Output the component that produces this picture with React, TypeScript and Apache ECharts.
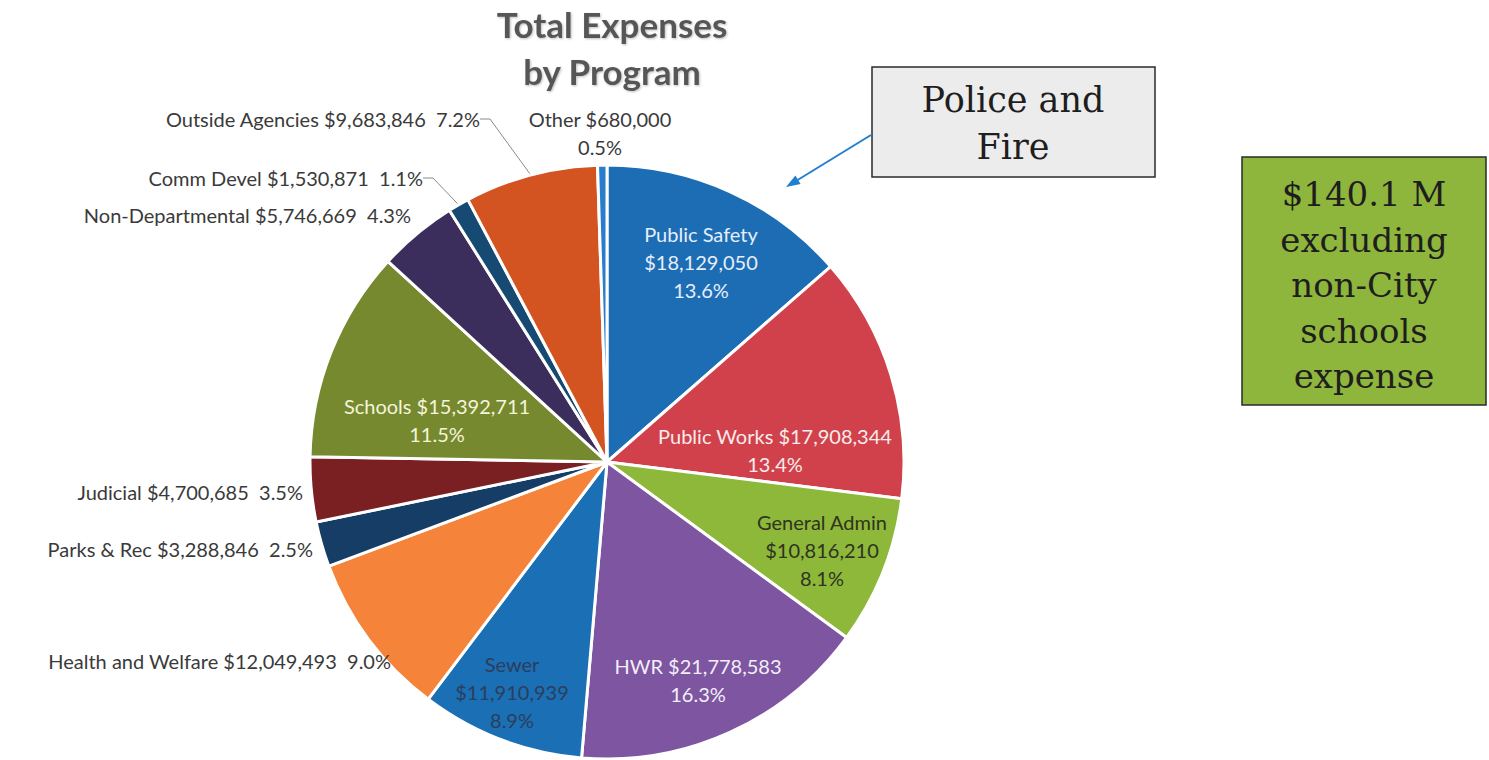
import React, { useEffect, useRef } from "react";
import * as echarts from "echarts";

const categories = [
  "Public Safety",
  "Public Works",
  "General Admin",
  "HWR",
  "Sewer",
  "Health and Welfare",
  "Parks & Rec",
  "Judicial",
  "Schools",
  "Non-Departmental",
  "Comm Devel",
  "Outside Agencies",
  "Other",
];

const values = [
  18129050, 17908344, 10816210, 21778583, 11910939, 12049493, 3288846,
  4700685, 15392711, 5746669, 1530871, 9683846, 680000,
];

const colors = [
  "#1d6db5",
  "#d0414b",
  "#8db83a",
  "#7d55a0",
  "#1a6fb5",
  "#f5843a",
  "#163d66",
  "#7a1f22",
  "#76892e",
  "#3c2e5c",
  "#164a72",
  "#d35420",
  "#2a7ccc",
];

type LabelStyle = {
  mode: "in" | "out";
  fmt: "stack3" | "stack2" | "line";
  x: number;
  y: number;
  align: "left" | "center" | "right";
  color: string;
  line?: boolean;
};

const labelStyles: LabelStyle[] = [
  { mode: "in", fmt: "stack3", x: 701, y: 262, align: "center", color: "#e6eefa" },
  { mode: "in", fmt: "stack2", x: 775, y: 450, align: "center", color: "#f8ecec" },
  { mode: "in", fmt: "stack3", x: 822, y: 550, align: "center", color: "#2f3320" },
  { mode: "in", fmt: "stack2", x: 698, y: 680, align: "center", color: "#f3eef8" },
  { mode: "in", fmt: "stack3", x: 512, y: 692, align: "center", color: "#2c3e5c" },
  { mode: "out", fmt: "line", x: 391, y: 661, align: "right", color: "#3a3a3a" },
  { mode: "out", fmt: "line", x: 313, y: 549, align: "right", color: "#3a3a3a" },
  { mode: "out", fmt: "line", x: 303, y: 492, align: "right", color: "#3a3a3a" },
  { mode: "in", fmt: "stack2", x: 437, y: 420, align: "center", color: "#f4f4dc" },
  { mode: "out", fmt: "line", x: 411, y: 215, align: "right", color: "#3a3a3a" },
  { mode: "out", fmt: "line", x: 423, y: 178, align: "right", color: "#3a3a3a", line: true },
  { mode: "out", fmt: "line", x: 480, y: 119, align: "right", color: "#3a3a3a", line: true },
  { mode: "out", fmt: "stack2", x: 600, y: 133, align: "center", color: "#3a3a3a" },
];

const total = values.reduce((a, b) => a + b, 0);
const money = (v: number) => "$" + v.toLocaleString("en-US");
const pct = (v: number) => ((v / total) * 100).toFixed(1) + "%";

function labelText(i: number): string {
  const n = categories[i];
  const v = values[i];
  const s = labelStyles[i];
  if (s.fmt === "stack3") return `${n}\n${money(v)}\n${pct(v)}`;
  if (s.fmt === "stack2") return `${n} ${money(v)}\n${pct(v)}`;
  return `${n} ${money(v)}  ${pct(v)}`;
}

export default function App() {
  const ref = useRef<HTMLDivElement>(null);
  useEffect(() => {
    document.body.style.margin = "0";
    const chart = echarts.init(ref.current!, null, { renderer: "svg" });
    const font = "Lato, 'Open Sans', sans-serif";
    const serif = "'DejaVu Serif', 'Liberation Serif', serif";

    const data = categories.map((name, i) => {
      const s = labelStyles[i];
      return {
        name,
        value: values[i],
        itemStyle: { color: colors[i] },
        label: {
          position: s.mode === "in" ? "inside" : "outside",
          color: s.color,
          align: s.align,
        },
        labelLine: {
          show: !!s.line,
          length: 10,
          length2: 10,
          lineStyle: { color: "#8a8a8a", width: 1 },
        },
      };
    });

    chart.setOption({
      animation: false,
      backgroundColor: "#ffffff",
      title: {
        text: "Total Expenses\nby Program",
        left: 607,
        top: -5,
        textAlign: "center",
        textStyle: {
          fontFamily: font,
          fontWeight: "bold",
          fontSize: 35,
          lineHeight: 47,
          color: "#575757",
          textShadowColor: "rgba(0,0,0,0.25)",
          textShadowBlur: 2,
          textShadowOffsetX: 1,
          textShadowOffsetY: 1,
        },
      },
      series: [
        {
          type: "pie",
          center: [607, 462],
          radius: 297,
          startAngle: 90,
          clockwise: true,
          avoidLabelOverlap: false,
          itemStyle: { borderColor: "#ffffff", borderWidth: 3 },
          label: {
            show: true,
            fontFamily: font,
            fontSize: 20,
            lineHeight: 28,
            formatter: (p: any) => labelText(p.dataIndex),
          },
          labelLayout: (p: any) => {
            const s = labelStyles[p.dataIndex];
            return {
              x: s.x,
              y: s.y,
              align: s.align,
              verticalAlign: "middle",
            };
          },
          data,
        },
      ],
      graphic: [
        {
          type: "rect",
          shape: { x: 872, y: 67, width: 283, height: 110 },
          style: { fill: "#ececec", stroke: "#2a2a2a", lineWidth: 1.5 },
        },
        {
          type: "text",
          x: 1013,
          y: 123,
          style: {
            text: "Police and\nFire",
            font: `35px ${serif}`,
            lineHeight: 47,
            fill: "#1e1e1e",
            align: "center",
            verticalAlign: "middle",
          },
        },
        {
          type: "line",
          shape: { x1: 871, y1: 135, x2: 796, y2: 181 },
          style: { stroke: "#2080d0", lineWidth: 2 },
        },
        {
          type: "polygon",
          shape: {
            points: [
              [786, 187],
              [800.6, 184],
              [795.4, 175.4],
            ],
          },
          style: { fill: "#2080d0" },
        },
        {
          type: "rect",
          shape: { x: 1242, y: 157, width: 244, height: 248 },
          style: { fill: "#8fb63c", stroke: "#2a2a2a", lineWidth: 1.5 },
        },
        {
          type: "text",
          x: 1364,
          y: 285,
          style: {
            text: "$140.1 M\nexcluding\nnon-City\nschools\nexpense",
            font: `34px ${serif}`,
            lineHeight: 45.5,
            fill: "#1e1e1e",
            align: "center",
            verticalAlign: "middle",
          },
        },
      ],
    });
    return () => chart.dispose();
  }, []);
  return <div ref={ref} style={{ width: 1489, height: 760 }} />;
}
